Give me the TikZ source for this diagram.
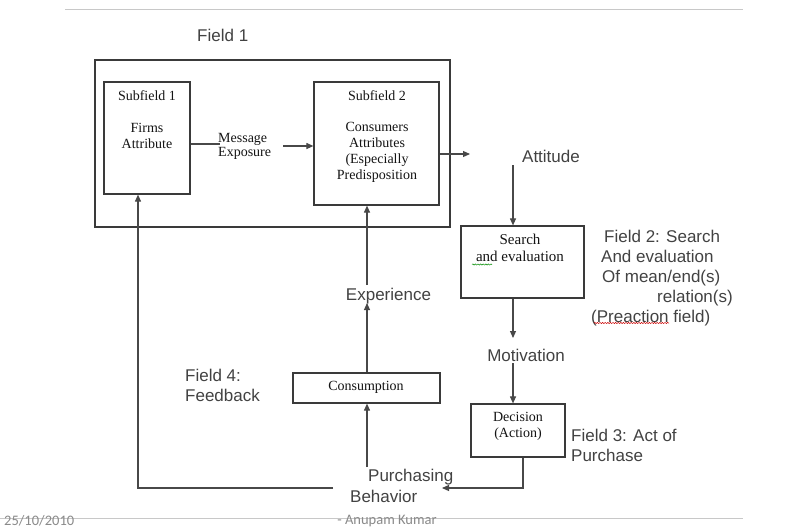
\documentclass[tikz,border=0pt]{standalone}
\usepackage{fontspec}
\setmainfont{Liberation Serif}
\newfontfamily\labelfont{Liberation Sans}
\newfontfamily\footfont{Carlito}
\usetikzlibrary{arrows.meta,decorations.pathmorphing}

\definecolor{ink}{HTML}{3A3A3A}
\definecolor{wire}{HTML}{484848}
\definecolor{labelgray}{HTML}{424242}
\definecolor{rulegray}{HTML}{C8C8C8}
\definecolor{footgray}{HTML}{8A8A8A}

\tikzset{
  frame/.style={draw=ink, line width=1.2pt, inner sep=0pt},
  serifnote/.style={inner sep=0pt, text=black!92, font=\fontsize{14}{16}\selectfont, align=center},
  sanslabel/.style={inner sep=0pt, text=labelgray, font=\labelfont\fontsize{17}{20}\selectfont},
  footertext/.style={inner sep=0pt, text=footgray, font=\footfont\fontsize{14.5}{16}\selectfont},
  flow/.style={draw=wire, line width=1.1pt, -{Triangle[length=7pt,width=6pt]}},
  plain/.style={draw=wire, line width=1.1pt},
  hrule/.style={draw=rulegray, line width=0.9pt},
  squiggle/.style={line width=0.5pt, decorate, decoration={snake, amplitude=0.6pt, segment length=2.6pt}},
}

\begin{document}
\begin{tikzpicture}[x=1pt,y=-1pt]
\useasboundingbox (0,0) rectangle (787,531);
\fill[white] (0,0) rectangle (787,531);

% header and footer rules
\coordinate (topL) at (65,9);
\coordinate (topR) at (743,9);
\draw[hrule] (topL) -- (topR);
\coordinate (botL) at (0,518);
\coordinate (botR) at (743,518);
\draw[hrule] (botL) -- (botR);
\node[footertext, anchor=west] (date) at (4,521) {25/10/2010};
\node[footertext] (author) at (387,521) {- Anupam Kumar};

% Field 1 with its two subfields
\node[sanslabel, anchor=north west] (f1label) at (197,29) {Field 1};
\node[frame, minimum width=355pt, minimum height=167pt] (field1) at (272.5,143.5) {};
\node[frame, minimum width=86pt, minimum height=112pt] (sub1) at (147,138) {};
\node[frame, minimum width=125pt, minimum height=123pt] (sub2) at (376.5,143.5) {};
\node[serifnote, anchor=north] (sub1text) at (147,90)
  {Subfield 1\\[16pt]Firms\\Attribute};
\node[serifnote, anchor=north] (sub2text) at (377,90)
  {Subfield 2\\[15pt]Consumers\\Attributes\\(Especially\\Predisposition};
\node[serifnote, align=left, anchor=north west, font=\fontsize{14}{14}\selectfont] (msg) at (218,133)
  {Message\\Exposure};

% Field 2
\node[sanslabel] (att) at (551,156) {Attitude};
\node[frame, minimum width=123pt, minimum height=72pt] (srch) at (522.5,262) {};
\node[serifnote, anchor=north, font=\fontsize{15}{17}\selectfont] (srchtext) at (520,234)
  {Search\\and evaluation};
\node[sanslabel, align=left, anchor=north west] (f2label) at (591,229.5)
  {\hspace*{13pt}Field 2: Search\\\hspace*{10pt}And evaluation\\\hspace*{11pt}Of mean/end(s)\\\hspace*{66pt}relation(s)\\(Preaction field)};
\draw[squiggle, green!55!black] (472,264.5) -- (492,264.5);
\draw[squiggle, red!80!black] (594,323) -- (669,323);

% Field 3
\node[sanslabel] (motiv) at (526,355) {Motivation};
\node[frame, minimum width=94pt, minimum height=53pt] (dec) at (518,430.5) {};
\node[serifnote] (dectext) at (518,426) {Decision\\(Action)};
\node[sanslabel, align=left, anchor=north west] (f3label) at (571,428.7)
  {Field 3: Act of\\Purchase};

% Field 4
\node[sanslabel, align=left, anchor=north west] (f4label) at (185,368.7)
  {Field 4:\\Feedback};
\node[frame, minimum width=147pt, minimum height=30pt] (cons) at (366.5,388) {};
\node[serifnote] (constext) at (366,387.5) {Consumption};
\node[sanslabel] (exper) at (388.5,296) {Experience};
\node[sanslabel, align=left, anchor=north west, font=\labelfont\fontsize{17}{21}\selectfont] (purch) at (350,468.7)
  {\hspace*{18pt}Purchasing\\Behavior};

% connector end points and bends
\coordinate (msgIn) at (220,144);
\coordinate (msgOut) at (283,146);
\coordinate (attIn) at (470,154);
\coordinate (attOut) at (513,165);
\coordinate (motIn) at (513,338);
\coordinate (motOut) at (513,363);
\coordinate (decBend) at (523,488);
\coordinate (purchIn) at (442,488);
\coordinate (purchUp) at (367,467);
\coordinate (expIn) at (367,303);
\coordinate (expOut) at (367,285);
\coordinate (fbStart) at (333,488);
\coordinate (fbBend) at (138,488);

% connectors
\draw[plain] (sub1.east |- msgIn) -- (msgIn);
\draw[flow] (msgOut) -- (sub2.west |- msgOut);
\draw[flow] (sub2.east |- attIn) -- (attIn);
\draw[flow] (attOut) -- (attOut |- srch.north);
\draw[flow] (srch.south -| motIn) -- (motIn);
\draw[flow] (motOut) -- (motOut |- dec.north);
\draw[flow] (dec.south -| decBend) -- (decBend) -- (purchIn);
\draw[flow] (purchUp) -- (purchUp |- cons.south);
\draw[flow] (cons.north -| expIn) -- (expIn);
\draw[flow] (expOut) -- (expOut |- sub2.south);
\draw[flow] (fbStart) -- (fbBend) -- (fbBend |- sub1.south);

\end{tikzpicture}
\end{document}
